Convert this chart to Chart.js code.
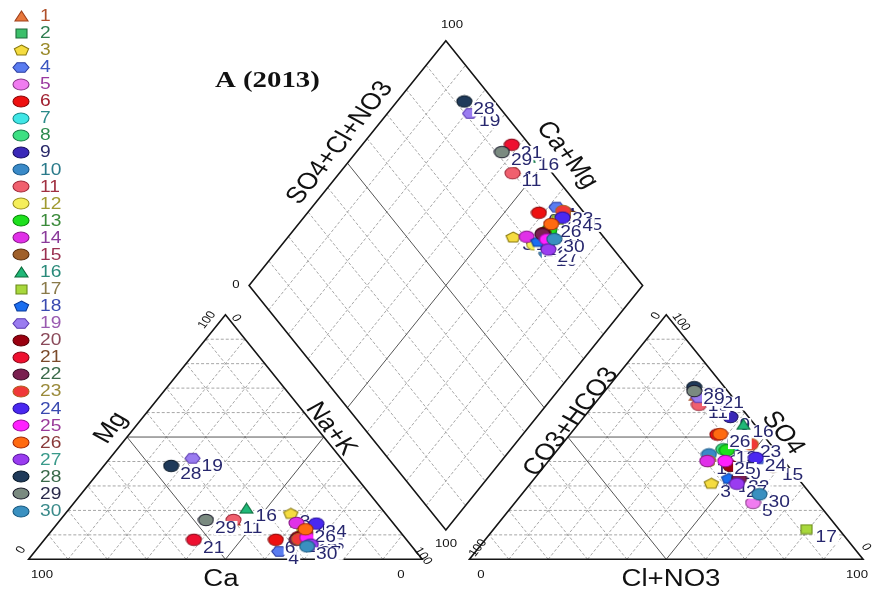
<!DOCTYPE html>
<html><head><meta charset="utf-8">
<script src="https://cdn.jsdelivr.net/npm/chart.js@4.4.0/dist/chart.umd.min.js"></script>
<style>html,body{margin:0;padding:0;background:#fff;}canvas{display:block;}</style>
</head><body>
<canvas id="c" width="873" height="592"></canvas>
<script>
// ---------------- data (percent of meq) ----------------
const samples = ['1','2','3','4','5','6','7','8','9','10','11','12','13','14','15','16','17','18','19','20','21','22','23','24','25','26','27','28','29','30'];
// cations
const mgPct  = [16.1, 5, 18.6, 3.2, 5.5, 8.0, 5.0, 9, 10, 6, 16.1, 12, 11, 14.9, 9, 20.9, 8, 9, 41.3, 9, 8.0, 8.0, 8.3, 14.6, 8.9, 12.3, 6, 38.2, 16.1, 5.3];
const naKPct = [44, 70, 57.3, 62.1, 69, 58.8, 70, 66, 66, 69, 44, 64, 64.9, 60.6, 68, 44.9, 65, 64.5, 21.0, 64, 38.0, 64.1, 64.6, 65.8, 66.3, 64.2, 68.7, 17.1, 37.0, 68.1];
// anions
const so4Pct = [67, 32, 30.9, 41.1, 23.1, 51, 44.6, 45, 58.2, 42.9, 63.2, 40.2, 44.6, 40.2, 37.8, 55.2, 12.3, 32.9, 66.1, 38.2, 67, 33, 47, 41.5, 40.2, 51.2, 30.9, 70.4, 68.8, 26.6];
const clNo3Pct = [24, 52, 46.0, 53.0, 60.5, 37.5, 44, 42, 37.2, 39.4, 26.7, 40.6, 43.1, 40.3, 58.2, 42.0, 79.5, 49.4, 25.2, 47.2, 28.5, 52, 48, 52, 44.9, 38.1, 52.5, 21.9, 22.7, 60.4];
const tickVals = ['0','100'];

// ---------------- styles ----------------
const shapes = ['triangle','square','pentagon','hexagon','circle','circle','circle','circle','circle','circle','circle','circle','circle','circle','circle','triangle','square','pentagon','hexagon','circle','circle','circle','circle','circle','circle','circle','circle','circle','circle','circle'];
const fills = ['#e8783c','#3cbf6a','#f5dc40','#5a7cf0','#f07cf0','#ee1010','#40e6e6','#3ce082','#3a28b8','#3a8ac8','#f0606e','#f5ee5a','#1ee01e','#e030e8','#a0602a','#20b878','#a8d83c','#1a6ef0','#9a7cf0','#9a0010','#ee1030','#7a2050','#f03838','#4a28f0','#ff20ff','#ff6a10','#9a3cf0','#1f3a5a','#7a8a80','#3a90c0'];
const strokes = ['#a0401a','#1e6a3a','#8a7a10','#2a3ca0','#8a3a8a','#8a0a0a','#1a8a8a','#1a7a4a','#1a1060','#1a5a8a','#a02a3a','#9a9020','#0a8a0a','#8a1a8a','#5a3010','#0a6a3a','#6a8a1a','#0a3a9a','#5a3ab0','#5a0008','#8a0a1a','#3a1028','#b06020','#2a14a0','#9a109a','#a02a0a','#5a1aa0','#0a1a2a','#1a1a2a','#1a5a80'];
const legendTextColors = ['#b0502a','#2e7d4f','#9a8a2a','#3a55c0','#9a3aa0','#a02030','#2a8a8a','#2e8a4e','#2a2a6a','#2a7a8a','#a03040','#a09a30','#3a8a3a','#8a3a9a','#9a3050','#2a8a7a','#8a7a4a','#3a4ab0','#9a5ab0','#8a4a5a','#7a4a2a','#3a6a4a','#9a8a3a','#3a4ab0','#9a3a9a','#8a3a3a','#3a9a8a','#3a6a4a','#2a2a4a','#3a8a8a'];

// ---------------- Piper geometry (in data units) ----------------
const S3 = Math.sqrt(3)/2, GAP = 12;
const catXY = (m, n) => ({x: n + m/2, y: m*S3});
const anXY  = (s, c) => ({x: 100 + GAP + c + s/2, y: s*S3});
const diaXY = (n, sc) => { const t = 100 + GAP + sc - n; return {x: n + t/2, y: t*S3}; };

function makeMarker(shape, fill, stroke, w, h){
  const c = document.createElement('canvas');
  c.width = Math.ceil(w + 2); c.height = Math.ceil(h + 2);
  const g = c.getContext('2d');
  const cx = c.width/2, cy = c.height/2, rx = w/2, ry = h/2;
  g.beginPath();
  if (shape === 'circle') g.ellipse(cx, cy, rx, ry, 0, 0, Math.PI*2);
  else if (shape === 'square') g.rect(cx - rx, cy - ry, w, h);
  else if (shape === 'triangle') { g.moveTo(cx, cy - ry); g.lineTo(cx + rx, cy + ry); g.lineTo(cx - rx, cy + ry); g.closePath(); }
  else {
    const n = shape === 'pentagon' ? 5 : 6, a0 = shape === 'pentagon' ? -Math.PI/2 : 0;
    for (let k = 0; k < n; k++) { const a = a0 + k*2*Math.PI/n; const px = cx + rx*Math.cos(a), py = cy + ry*Math.sin(a); k ? g.lineTo(px, py) : g.moveTo(px, py); }
    g.closePath();
  }
  g.fillStyle = fill; g.fill();
  g.lineWidth = 1.1; g.strokeStyle = stroke; g.stroke();
  return c;
}
function sizeFor(shape, legend){
  if (shape === 'triangle') return [13, 10];
  if (shape === 'square') return [11, 9];
  if (shape === 'pentagon') return legend ? [15, 11] : [15, 11];
  if (shape === 'hexagon') return legend ? [16, 11] : [15, 11];
  return legend ? [16, 11] : [15, 11.5];
}
const plotMarkers = shapes.map((s, i) => { const [w, h] = sizeFor(s, false); return makeMarker(s, fills[i], strokes[i], w, h); });
const legendMarkers = shapes.map((s, i) => { const [w, h] = sizeFor(s, true); return makeMarker(s, fills[i], strokes[i], w, h); });

const SX = 1.2;                       // horizontal text stretch of the reference
const EDGE = Math.atan(250.7*SX/200); // rotation of edge-aligned text
const SANS = '"Liberation Sans", Arial, sans-serif';

function drawText(ctx, s, x, y, o){
  ctx.save();
  ctx.translate(x, y); ctx.scale(SX, 1); ctx.rotate(o.angle || 0);
  ctx.font = o.font; ctx.fillStyle = o.color || '#111';
  ctx.textAlign = o.align || 'center'; ctx.textBaseline = o.baseline || 'middle';
  ctx.fillText(s, 0, 0);
  ctx.restore();
}

const gridPlugin = {
  id: 'piperGrid',
  beforeDatasetsDraw(chart){
    const {ctx} = chart, sx = chart.scales.x, sy = chart.scales.y;
    const P = p => [sx.getPixelForValue(p.x), sy.getPixelForValue(p.y)];
    const seg = (a, b, st) => {
      const A = P(a), B = P(b);
      ctx.beginPath(); ctx.moveTo(A[0], A[1]); ctx.lineTo(B[0], B[1]);
      if (st === 'mid') { ctx.setLineDash([]); ctx.strokeStyle = '#555'; ctx.lineWidth = 1; }
      else { ctx.setLineDash([3, 2]); ctx.strokeStyle = '#9c9c9c'; ctx.lineWidth = 0.9; }
      ctx.stroke();
    };
    const poly = pts => {
      ctx.setLineDash([]); ctx.strokeStyle = '#151515'; ctx.lineWidth = 1.6;
      ctx.beginPath(); pts.map(P).forEach((q, k) => k ? ctx.lineTo(q[0], q[1]) : ctx.moveTo(q[0], q[1])); ctx.closePath(); ctx.stroke();
    };
    ctx.save();
    for (let k = 10; k < 100; k += 10) {
      const st = k === 50 ? 'mid' : 'dot';
      seg(catXY(k, 0), catXY(k, 100 - k), st);
      seg(catXY(0, k), catXY(100 - k, k), st);
      seg(catXY(0, 100 - k), catXY(100 - k, 0), st);
      seg(anXY(k, 0), anXY(k, 100 - k), st);
      seg(anXY(0, k), anXY(100 - k, k), st);
      seg(anXY(0, 100 - k), anXY(100 - k, 0), st);
      seg(diaXY(k, 0), diaXY(k, 100), st);
      seg(diaXY(0, k), diaXY(100, k), st);
    }
    poly([catXY(0, 0), catXY(0, 100), catXY(100, 0)]);
    poly([anXY(0, 0), anXY(0, 100), anXY(100, 0)]);
    poly([diaXY(0, 0), diaXY(0, 100), diaXY(100, 100), diaXY(100, 0)]);
    ctx.restore();
  }
};

const labelPlugin = {
  id: 'pointLabels',
  afterDatasetDraw(chart, args){
    const ctx = chart.ctx, s = samples[args.index];
    args.meta.data.forEach(el => {
      ctx.save();
      ctx.translate(el.x + 9, el.y + 8); ctx.scale(SX, 1);
      ctx.font = '16px ' + SANS;
      const w = ctx.measureText(s).width;
      ctx.fillStyle = '#fff'; ctx.fillRect(-1, -7, w + 2, 14);
      ctx.fillStyle = '#27276e'; ctx.textAlign = 'left'; ctx.textBaseline = 'middle';
      ctx.fillText(s, 0, 0.5);
      ctx.restore();
    });
  }
};

const textPlugin = {
  id: 'piperText',
  afterDraw(chart){
    const ctx = chart.ctx;
    // legend
    samples.forEach((s, i) => {
      const y = 16 + i*17.07, m = legendMarkers[i];
      ctx.drawImage(m, Math.round(21 - m.width/2), Math.round(y - m.height/2));
      drawText(ctx, s, 40, y + 0.5, {font: '16px ' + SANS, color: legendTextColors[i], align: 'left'});
    });
    // title
    drawText(ctx, 'A (2013)', 215, 87, {font: 'bold 24px "Liberation Serif", "Times New Roman", serif', color: '#111', align: 'left', baseline: 'alphabetic'});
    // axis titles
    const T = '23px ' + SANS;
    drawText(ctx, 'Ca', 221, 580, {font: T});
    drawText(ctx, 'Cl+NO3', 671, 580, {font: T});
    drawText(ctx, 'Mg', 111, 428, {font: T, angle: -EDGE});
    drawText(ctx, 'Na+K', 331, 429, {font: T, angle: EDGE});
    drawText(ctx, 'SO4+Cl+NO3', 340, 143, {font: T, angle: -EDGE});
    drawText(ctx, 'Ca+Mg', 567, 155, {font: T, angle: EDGE});
    drawText(ctx, 'CO3+HCO3', 571, 422, {font: T, angle: -EDGE});
    drawText(ctx, 'SO4', 783, 433, {font: T, angle: EDGE});
    // tick labels
    const F = '11px ' + SANS, z = tickVals[0], h = tickVals[1];
    drawText(ctx, h, 42, 575, {font: F});
    drawText(ctx, z, 401, 575, {font: F});
    drawText(ctx, h, 207, 320, {font: F, angle: -EDGE});
    drawText(ctx, z, 236, 318, {font: F, angle: EDGE});
    drawText(ctx, z, 21, 550, {font: F, angle: -EDGE});
    drawText(ctx, h, 423, 556, {font: F, angle: EDGE});
    drawText(ctx, z, 481, 575, {font: F});
    drawText(ctx, h, 857, 575, {font: F});
    drawText(ctx, h, 478, 548, {font: F, angle: -EDGE});
    drawText(ctx, z, 656, 316, {font: F, angle: -EDGE});
    drawText(ctx, h, 681, 322, {font: F, angle: EDGE});
    drawText(ctx, z, 866, 547, {font: F, angle: EDGE});
    drawText(ctx, h, 452, 25, {font: F});
    drawText(ctx, z, 236, 285, {font: F});
    drawText(ctx, h, 446, 544, {font: F});
  }
};

const datasets = samples.map((s, i) => ({
  label: s,
  data: [catXY(mgPct[i], naKPct[i]), anXY(so4Pct[i], clNo3Pct[i]), diaXY(naKPct[i], so4Pct[i] + clNo3Pct[i])],
  pointStyle: plotMarkers[i],
  pointRadius: 6,
  showLine: false,
  order: samples.length - i
}));

new Chart(document.getElementById('c'), {
  type: 'scatter',
  data: {datasets},
  options: {
    responsive: false, animation: false, events: [], devicePixelRatio: 1,
    layout: {padding: 0},
    plugins: {legend: {display: false}, tooltip: {enabled: false}},
    scales: {
      x: {type: 'linear', min: -5.5, max: 212.75, display: false},
      y: {type: 'linear', min: -9.093, max: 195.58, display: false}
    }
  },
  plugins: [gridPlugin, labelPlugin, textPlugin]
});
</script>
</body></html>
